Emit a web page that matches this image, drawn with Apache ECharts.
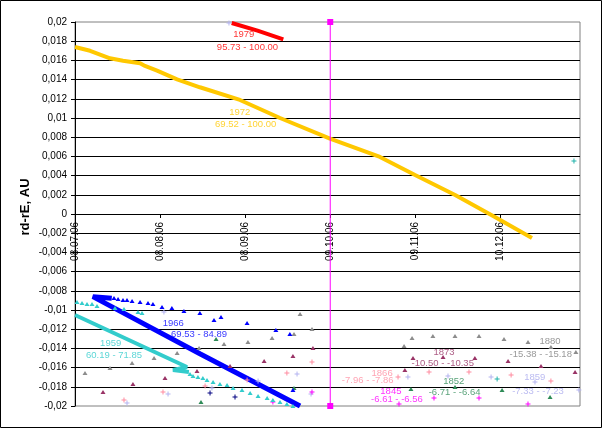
<!DOCTYPE html>
<html><head><meta charset="utf-8">
<script src="https://cdn.jsdelivr.net/npm/echarts@6/dist/echarts.min.js"></script>
<style>html,body{margin:0;padding:0;background:#fff}#c{width:602px;height:428px}</style>
</head><body><div id="c"></div>
<script>
// x values: days since 08.07.2006 ; y values: rd-rE in AU
const START_UTC = Date.UTC(2006, 6, 8);
const xMin = 0, xMax = 184, xStep = 31;
const yMin = -0.02, yMax = 0.02, yStep = 0.002;

const line1979 = [[57.1,0.0199],[66.5,0.0191],[75.9,0.0182]];
const line1972 = [[0,0.0174],[5.5,0.0170],[12.75,0.01622],[17.5,0.01597],[23.7,0.0157],[25.5,0.01542],[29.9,0.01493],[37.2,0.01403],[45.5,0.0132],[60.1,0.01188],[74.7,0.0100],[92.9,0.00786],[111.1,0.00594],[123.9,0.00406],[138.5,0.00198],[153.0,-0.00031],[166.5,-0.0025]];
const line1966 = [[82.0,-0.0200],[45.5,-0.01455],[6.5,-0.00861],[13.4,-0.00878]];
const pts1966 = [[14.2,-0.00875],[15.7,-0.00885],[17.5,-0.00896],[18.95,-0.00896],[20.8,-0.00906],[23.7,-0.00917],[26.6,-0.00927],[28.4,-0.00938],[31.7,-0.00969],[35.3,-0.00979],[39.7,-0.0101],[45.5,-0.01031],[50.65,-0.01104],[53.2,-0.01073],[62.7,-0.01135],[73.2,-0.01208],[78.3,-0.0125],[79.4,-0.01833]];
const line1959 = [[0,-0.01052],[40.8,-0.01594],[35.7,-0.01625],[41.5,-0.01646]];
const pts1959 = [[0.73,-0.00917],[2.55,-0.00927],[4.37,-0.00938],[6.19,-0.00938],[8.02,-0.00958],[14.57,-0.00979],[17.85,-0.0099],[22.95,-0.01021],[24.41,-0.01031],
  [41.9,-0.01667],[43.0,-0.01688],[44.8,-0.01698],[46.6,-0.01708],[48.1,-0.01729],[50.3,-0.0175],[52.8,-0.01771],[55.4,-0.01781],[57.6,-0.01813],[60.85,-0.01833],[63.8,-0.01865],[66.7,-0.01896],[70.0,-0.01917],[72.1,-0.01938],[74.7,-0.01958],[77.2,-0.01979],[79.4,-0.0200]];
const plusTeal = [[153.8,-0.01719],[181.8,0.00552]];
const pts1880 = [[3.64,-0.01656],[12.75,-0.01604],[20.8,-0.01552],[28.8,-0.015],[37.2,-0.01448],[45.2,-0.01396],[54.3,-0.01354],[63.0,-0.01333],[71.8,-0.01292],[79.8,-0.0125],[82.0,-0.01042],[86.35,-0.01198],
  [119.9,-0.01375],[122.8,-0.01292],[130.4,-0.01271],[138.45,-0.01271],[147.2,-0.01271],[156.3,-0.01302],[165.05,-0.01333],[173.4,-0.01385],[182.5,-0.01438]];
const pts1873 = [[10.2,-0.01854],[21.1,-0.01771],[32.8,-0.01708],[44.45,-0.01635],[56.5,-0.01583],[68.9,-0.01531],[79.4,-0.01479],[86.7,-0.01396],
  [120.2,-0.01625],[123.15,-0.015],[134.1,-0.0149],[145.7,-0.015],[157.8,-0.01531],[169.8,-0.01583],[182.2,-0.01646]];
const plus1866 = [[17.85,-0.01938],[32.06,-0.01854],[47.4,-0.01792],[62.7,-0.01729],[77.2,-0.01656],[86.35,-0.01542],
  [117.7,-0.01698],[129.0,-0.01646],[143.55,-0.01646],[158.9,-0.01677],[173.4,-0.0174]];
const plus1859b = [[18.95,-0.01969],[33.9,-0.01875],[49.9,-0.01813],[66.7,-0.0174],[80.9,-0.01667],[86.0,-0.01875],[32.4,-0.01021],[56.1,0.0199],
  [121.3,-0.01698],[135.9,-0.01688],[151.6,-0.01698],[167.6,-0.0175],[183.6,-0.01833]];
const plus1845 = [[72.1,-0.01958],[86.35,-0.01854],[118.05,-0.01979],[130.8,-0.01917],[147.2,-0.01917],[165.05,-0.01979]];
const pts1852 = [[51.4,-0.01302],[45.9,-0.01958],[79.8,-0.01813],[122.4,-0.01823],[138.45,-0.01802],[155.6,-0.01833],[173.1,-0.01906]];
const plusNavy = [[49.2,-0.01865],[58.3,-0.01906]];
const markerLine = [[93,0.02],[93,-0.02]];

// annotation texts anchored in data coordinates [day, value, text]
const lab1979 = [[61.5,0.01875,'1979'],[62.85,0.0174,'95.73 - 100.00']];
const lab1972 = [[60.05,0.01063,'1972'],[62.2,0.00932,'69.52 - 100.00']];
const lab1966 = [[35.8,-0.01139,'1966'],[45.2,-0.0125,'69.53 - 84.89']];
const lab1959 = [[13.0,-0.01347,'1959'],[14.2,-0.01469,'60.19 - 71.85']];
const lab1873 = [[134.45,-0.01438,'1873'],[134.0,-0.01555,'-10.50 - -10.35']];
const lab1880 = [[173.1,-0.01323,'1880'],[169.7,-0.01458,'-15.38 - -15.18']];
const lab1866 = [[111.9,-0.01656,'1866'],[106.65,-0.01738,'-7.96 - -7.86']];
const lab1852 = [[138.0,-0.01747,'1852'],[138.3,-0.01859,'-6.71 - -6.64']];
const lab1845 = [[115.1,-0.01851,'1845'],[117.3,-0.01927,'-6.61 - -6.56']];
const lab1859b = [[167.5,-0.01706,'1859'],[168.7,-0.01851,'-7.33 - -7.23']];

const FONT = '"Liberation Sans", Arial, sans-serif';
const PLUS = 'path://M2,0H3V2H5V3H3V5H2V3H0V2H2Z';
const GRID = {left:75, right:22, top:22, bottom:22};
const PLOT_H = 428 - GRID.top - GRID.bottom;

function pad(n){return (n<10?'0':'')+n;}
function fmtDate(v){
  if (Math.round(v) % xStep !== 0) return '';
  const d = new Date(START_UTC + Math.round(v)*86400000);
  return pad(d.getUTCDate())+'.'+pad(d.getUTCMonth()+1)+'.'+pad(d.getUTCFullYear()%100);
}
function fmtY(v){
  if (Math.abs(v) < 1e-12) return '0';
  return String(+v.toFixed(3)).replace('.', ',');
}
function lineS(data, color, w){
  return {type:'line', data, symbol:'none', lineStyle:{color, width:w}, itemStyle:{color}, z:3};
}
function ptsS(data, color, sym){
  return {type:'scatter', data, symbol: sym==='plus'?PLUS:'triangle', symbolSize: sym==='plus'?5:[5,4], itemStyle:{color, opacity:1}, z:4};
}
function labS(data, color){
  return {type:'scatter', data, symbolSize:0, z:6,
    label:{show:true, position:'inside', formatter:p=>p.data[2], color, fontSize:9.5, fontFamily:FONT}};
}

// x axis crosses the y axis at value 0: shift it from the bottom edge to the zero line
const zeroOffset = -PLOT_H * (0 - yMin) / (yMax - yMin);

const chart = echarts.init(document.getElementById('c'), null, {renderer:'canvas'});
chart.setOption({
  animation:false,
  backgroundColor:'#ffffff',
  grid:Object.assign({containLabel:false, outerBoundsMode:'none',
    show:true, borderColor:'#808080', borderWidth:1, backgroundColor:'transparent'}, GRID),
  xAxis:{type:'value', min:xMin, max:xMax, interval:xStep, position:'bottom', offset:zeroOffset,
    axisLine:{onZero:false, lineStyle:{color:'#000', width:1}},
    axisTick:{show:true, length:4, lineStyle:{color:'#000'}},
    axisLabel:{rotate:90, margin:8, fontSize:10, fontFamily:FONT, color:'#000', formatter:fmtDate, showMaxLabel:false},
    splitLine:{show:false}},
  yAxis:{type:'value', min:yMin, max:yMax, interval:yStep,
    axisLine:{show:true, onZero:false, lineStyle:{color:'#000', width:1}},
    axisTick:{show:true, length:4, lineStyle:{color:'#000'}},
    axisLabel:{margin:8, fontSize:10, fontFamily:FONT, color:'#000', formatter:fmtY},
    splitLine:{show:true, showMinLine:false, showMaxLine:false, lineStyle:{color:'#000', width:1}}},
  graphic:[
    {type:'rect', shape:{x:0.5, y:0.5, width:601, height:427}, style:{fill:'none', stroke:'#000', lineWidth:1}, silent:true, z:100},
    {type:'text', x:25, y:207, rotation:Math.PI/2, style:{text:'rd-rE, AU', font:'bold 13px '+FONT, fill:'#000', textAlign:'center', textVerticalAlign:'middle'}, z:100}
  ],
  series:[
    lineS(line1972, '#FFC800', 4),
    lineS(line1979, '#FF0000', 4),
    ptsS(pts1880, '#8C8C8C', 'tri'),
    ptsS(pts1873, '#993366', 'tri'),
    ptsS(plus1866, '#FF8CA0', 'plus'),
    ptsS(plus1859b, '#B4B4F0', 'plus'),
    ptsS(plus1845, '#FF00FF', 'plus'),
    ptsS(pts1852, '#2E8B57', 'tri'),
    ptsS(plusNavy, '#000080', 'plus'),
    ptsS(plusTeal, '#20B2AA', 'plus'),
    lineS(line1959, '#33CCCC', 4),
    ptsS(pts1959, '#33CCCC', 'tri'),
    lineS(line1966, '#0000FF', 5),
    ptsS(pts1966, '#0000FF', 'tri'),
    {type:'line', data:markerLine, symbol:'rect', symbolSize:6, showAllSymbol:true, clip:false,
      lineStyle:{color:'#FF00FF', width:1}, itemStyle:{color:'#FF00FF'}, z:5},
    labS(lab1979, '#FF0000'), labS(lab1972, '#FFC800'), labS(lab1966, '#0000FF'), labS(lab1959, '#33CCCC'),
    labS(lab1873, '#993366'), labS(lab1880, '#808080'), labS(lab1866, '#FF8CA0'), labS(lab1852, '#2E8B57'),
    labS(lab1845, '#FF00FF'), labS(lab1859b, '#AAAAEE')
  ]
});
</script></body></html>
